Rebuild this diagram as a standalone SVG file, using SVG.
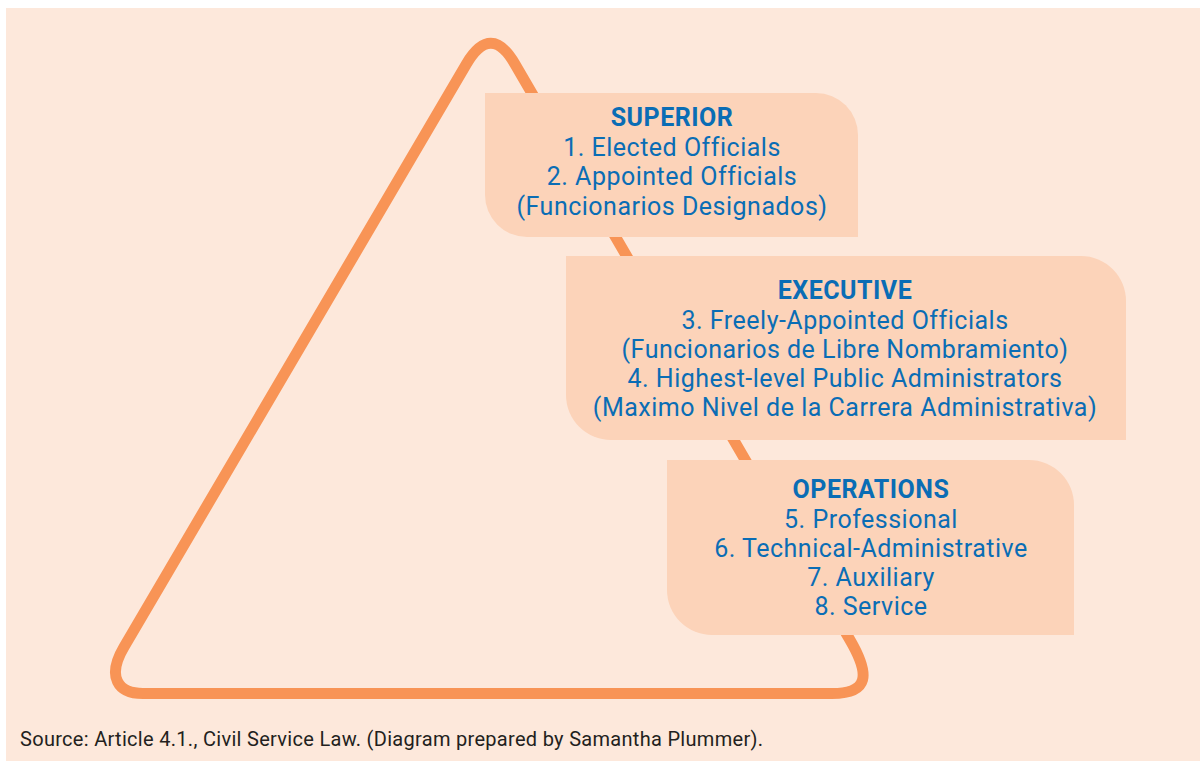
<svg xmlns="http://www.w3.org/2000/svg" width="1200" height="761" viewBox="0 0 1200 761">
  <style>
    .panel { fill: #FDE8DB; }
    .outline { fill: none; stroke: #F89456; stroke-width: 11; stroke-linejoin: round; }
    .tier { fill: #FCD3B9; }
    .label { font-family: Roboto, "Liberation Sans", sans-serif; font-size: 25px; letter-spacing: 0.5px; fill: #0A6DB5; text-anchor: middle; }
    .head { font-weight: bold; }
    .note { font-family: Roboto, "Liberation Sans", sans-serif; font-size: 20px; letter-spacing: 0.3px; fill: #231F20; }
  </style>

  <!-- page panel -->
  <rect class="panel" x="6" y="8" width="1194" height="753"/>

  <!-- rounded triangle behind the tier boxes -->
  <g id="pyramid">
    <path class="outline" d="M 124 647 L 466.4 64 Q 491 22.7 514.9 64 L 850 640 C 870.4 675 869 693.5 832 693.5 L 143 693.5 C 118 693.5 106.3 677 124 647 Z"/>
  </g>

  <g id="connectors"></g>

  <!-- tier 1 -->
  <g id="tier-superior">
    <path class="tier" d="M 485 93 H 816 A 42 42 0 0 1 858 135 V 237 H 527 A 42 42 0 0 1 485 195 Z"/>
    <text class="label head" x="672" y="126">SUPERIOR</text>
    <text class="label" x="672" y="156">1. Elected Officials</text>
    <text class="label" x="672" y="185">2. Appointed Officials</text>
    <text class="label" x="672" y="215">(Funcionarios Designados)</text>
  </g>

  <!-- tier 2 -->
  <g id="tier-executive">
    <path class="tier" d="M 566 256 H 1081 A 45 45 0 0 1 1126 301 V 440 H 611 A 45 45 0 0 1 566 395 Z"/>
    <text class="label head" x="845" y="299">EXECUTIVE</text>
    <text class="label" x="845" y="329">3. Freely-Appointed Officials</text>
    <text class="label" x="845" y="358">(Funcionarios de Libre Nombramiento)</text>
    <text class="label" x="845" y="387">4. Highest-level Public Administrators</text>
    <text class="label" x="845" y="416">(Maximo Nivel de la Carrera Administrativa)</text>
  </g>

  <!-- tier 3 -->
  <g id="tier-operations">
    <path class="tier" d="M 667 460 H 1029 A 45 45 0 0 1 1074 505 V 635 H 712 A 45 45 0 0 1 667 590 Z"/>
    <text class="label head" x="871" y="498">OPERATIONS</text>
    <text class="label" x="871" y="528">5. Professional</text>
    <text class="label" x="871" y="557">6. Technical-Administrative</text>
    <text class="label" x="871" y="586">7. Auxiliary</text>
    <text class="label" x="871" y="615">8. Service</text>
  </g>

  <text class="note" x="20" y="746">Source: Article 4.1., Civil Service Law. (Diagram prepared by Samantha Plummer).</text>
</svg>
